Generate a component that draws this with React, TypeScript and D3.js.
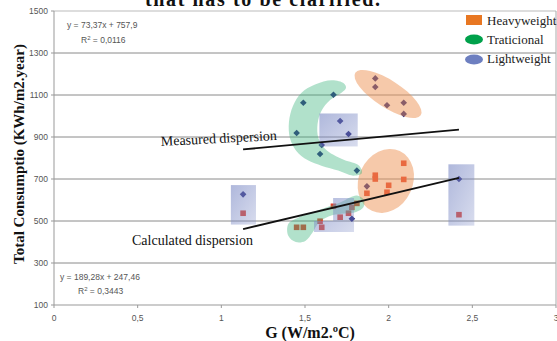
import React from 'react';
import * as d3 from 'd3';

// measured values (diamonds): [G, consumption]
const measuredHeavy = [[1.92, 1179], [1.92, 1138], [1.99, 1051], [2.09, 1063], [2.09, 1010], [1.87, 665]];
const measuredTraditional = [[1.67, 1101], [1.49, 1063], [1.45, 919], [1.59, 819], [1.81, 740]];
const measuredLight = [[1.71, 976], [1.76, 914], [1.6, 862], [1.13, 627], [2.42, 700], [1.78, 511]];

// calculated values (squares)
const calcHeavy = [[2.09, 775], [2.09, 698], [1.92, 718], [1.92, 700], [2.0, 670], [1.87, 632], [1.99, 637]];
const calcTraditional = [[1.45, 470], [1.49, 470], [1.67, 570], [1.81, 584], [1.78, 565], [1.59, 499]];
const calcLight = [[1.13, 537], [2.42, 530], [1.6, 470], [1.71, 518], [1.76, 537]];

// trend lines: slope, intercept, G range
const measuredFit = [73.37, 757.9];
const calculatedFit = [189.28, 247.46];
const fitRange = [1.13, 2.42];

const xTicks = [0, 0.5, 1, 1.5, 2, 2.5, 3];
const xTickLabels = ['0', '0,5', '1', '1,5', '2', '2,5', '3'];
const yTicks = [100, 300, 500, 700, 900, 1100, 1300, 1500];

const legendItems = ['Heavyweight', 'Traticional', 'Lightweight'];

// hand drawn highlight areas, in data units
const lightBoxes = [
  [[1.057, 483], [1.207, 671]],
  [[1.586, 855], [1.815, 1012]],
  [[2.357, 478], [2.512, 770]],
];
const lightCorner = [[1.554, 448], [1.793, 448], [1.793, 610], [1.668, 610], [1.668, 500], [1.554, 500]];
const heavyEllipses = [
  { g: 1.996, v: 1105 },
  { g: 1.983, v: 691 },
];
const tradBend = [
  [1.733, 1155], [1.662, 1170], [1.56, 1150], [1.478, 1110], [1.428, 1048], [1.404, 971],
  [1.41, 895], [1.447, 835], [1.515, 790], [1.602, 762], [1.698, 740], [1.787, 716],
  [1.84, 727], [1.822, 764], [1.735, 790], [1.67, 815], [1.615, 848], [1.58, 895],
  [1.575, 962], [1.598, 1024], [1.65, 1076], [1.72, 1112], [1.745, 1135],
];
const tradLower = [
  [1.4, 486], [1.458, 516], [1.542, 540], [1.626, 564], [1.71, 588], [1.769, 612],
  [1.811, 621], [1.85, 602], [1.85, 567], [1.805, 543], [1.739, 536], [1.662, 527],
  [1.582, 492], [1.545, 445], [1.502, 405], [1.445, 400], [1.4, 430],
];

const W = 557;
const H = 341;

export default function App() {
  const x = d3.scaleLinear().domain([0, 3]).range([54, 556]);
  const y = d3.scaleLinear().domain([100, 1500]).range([305, 11]);
  const sans = 'Liberation Sans, Arial, sans-serif';
  const serif = 'Liberation Serif, Times New Roman, serif';

  const blob = d3
    .line<number[]>()
    .x((d) => x(d[0]))
    .y((d) => y(d[1]))
    .curve(d3.curveCatmullRomClosed.alpha(0.5));
  const poly = d3
    .line<number[]>()
    .x((d) => x(d[0]))
    .y((d) => y(d[1]));

  const diamonds = [...measuredHeavy, ...measuredTraditional, ...measuredLight];
  const squares = [...calcHeavy, ...calcTraditional, ...calcLight];

  const fitLine = (fit: number[]) =>
    poly(fitRange.map((g) => [g, fit[0] * g + fit[1]]));

  const ellipseShape = [
    { rx: 39, ry: 13.5, rot: 33 },
    { rx: 27, ry: 33, rot: 25 },
  ];

  return (
    <svg
      width={W}
      height={H}
      style={{ position: 'absolute', left: 0, top: 0, background: '#fff' }}
    >
      <defs>
        <linearGradient id="lightGrad" x1="0" y1="0" x2="1" y2="1">
          <stop offset="0%" stopColor="#7e8cc6" stopOpacity={0.62} />
          <stop offset="100%" stopColor="#7e8cc6" stopOpacity={0.3} />
        </linearGradient>
      </defs>

      {/* cropped title */}
      <text x={145} y={6} fontFamily={serif} fontWeight="bold" fontSize={20} fill="#111" textLength={235}>
        that has to be clarified.
      </text>

      {/* grid */}
      {yTicks.slice(1, -1).map((t) => (
        <line key={t} x1={x(0)} x2={x(3)} y1={y(t)} y2={y(t)} stroke="#8a8a8a" strokeWidth={1} />
      ))}
      <line x1={x(0)} x2={x(3)} y1={y(1500)} y2={y(1500)} stroke="#bbb" />
      <line x1={x(3)} x2={x(3)} y1={y(1500)} y2={y(100)} stroke="#aaa" />
      <line x1={x(0)} x2={x(0)} y1={y(1500)} y2={y(100)} stroke="#999" />
      <line x1={x(0)} x2={x(3)} y1={y(100)} y2={y(100)} stroke="#999" />

      {yTicks.map((t) => (
        <g key={t}>
          <line x1={x(0) - 3} x2={x(0)} y1={y(t)} y2={y(t)} stroke="#999" />
          <text x={x(0) - 6} y={y(t) + 3} textAnchor="end" fontFamily={sans} fontSize={8.5} fill="#555">
            {t}
          </text>
        </g>
      ))}
      {xTicks.map((t, i) => (
        <g key={t}>
          <line x1={x(t)} x2={x(t)} y1={y(100)} y2={y(100) + 3} stroke="#999" />
          <text x={x(t)} y={321} textAnchor="middle" fontFamily={sans} fontSize={8.5} fill="#555">
            {xTickLabels[i]}
          </text>
        </g>
      ))}

      {/* axis titles */}
      <text
        transform={`translate(24, 154) rotate(-90)`}
        textAnchor="middle"
        fontFamily={serif}
        fontWeight="bold"
        fontSize={15}
        fill="#111"
      >
        Total Consumptio (KWh/m2.year)
      </text>
      <text x={310} y={338} textAnchor="middle" fontFamily={serif} fontWeight="bold" fontSize={16} fill="#111">
        G (W/m2.ºC)
      </text>

      {/* equations */}
      <g fontFamily={sans} fontSize={8.5} fill="#555">
        <text x={67} y={28}>y = 73,37x + 757,9</text>
        <text x={81} y={43}>
          R<tspan dy={-3} fontSize={6}>2</tspan>
          <tspan dy={3}> = 0,0116</tspan>
        </text>
        <text x={60} y={280}>y = 189,28x + 247,46</text>
        <text x={78} y={294}>
          R<tspan dy={-3} fontSize={6}>2</tspan>
          <tspan dy={3}> = 0,3443</tspan>
        </text>
      </g>

      {/* points */}
      {squares.map((d, i) => (
        <rect key={'s' + i} x={x(d[0]) - 2.8} y={y(d[1]) - 2.8} width={5.6} height={5.6} fill="#e4402c" />
      ))}
      {diamonds.map((d, i) => (
        <path
          key={'d' + i}
          d={d3.symbol(d3.symbolDiamond2, 28)() as string}
          transform={`translate(${x(d[0])},${y(d[1])})`}
          fill="#27267a"
        />
      ))}

      {/* highlight areas */}
      {heavyEllipses.map((e, i) => (
        <ellipse
          key={'e' + i}
          cx={x(e.g)}
          cy={y(e.v)}
          rx={ellipseShape[i].rx}
          ry={ellipseShape[i].ry}
          transform={`rotate(${ellipseShape[i].rot} ${x(e.g)} ${y(e.v)})`}
          fill="#ee9455"
          fillOpacity={0.5}
        />
      ))}
      <path d={blob(tradBend) as string} fill="#3db47c" fillOpacity={0.4} />
      <path d={blob(tradLower) as string} fill="#3db47c" fillOpacity={0.4} />
      {lightBoxes.map((b, i) => (
        <rect
          key={'b' + i}
          x={x(b[0][0])}
          y={y(b[1][1])}
          width={x(b[1][0]) - x(b[0][0])}
          height={y(b[0][1]) - y(b[1][1])}
          fill="url(#lightGrad)"
        />
      ))}
      <path d={(poly(lightCorner) as string) + 'Z'} fill="url(#lightGrad)" />

      {/* trend lines */}
      <path d={fitLine(measuredFit) as string} stroke="#111" strokeWidth={1.8} fill="none" />
      <path d={fitLine(calculatedFit) as string} stroke="#111" strokeWidth={1.8} fill="none" />

      <text x={161} y={146} transform="rotate(-3 161 146)" fontFamily={serif} fontSize={14} fill="#111">
        Measured dispersion
      </text>
      <text x={132} y={245} fontFamily={serif} fontSize={14} fill="#111">
        Calculated dispersion
      </text>

      {/* legend */}
      <rect x={466} y={15} width={16} height={10} fill="#e87722" />
      <ellipse cx={474} cy={39.5} rx={9} ry={5} fill="#00a14b" />
      <ellipse cx={474} cy={59.5} rx={9} ry={5} fill="#6d7fc0" />
      {legendItems.map((l, i) => (
        <text key={l} x={487} y={25 + i * 19} fontFamily={serif} fontSize={13} fill="#222">
          {l}
        </text>
      ))}
    </svg>
  );
}
